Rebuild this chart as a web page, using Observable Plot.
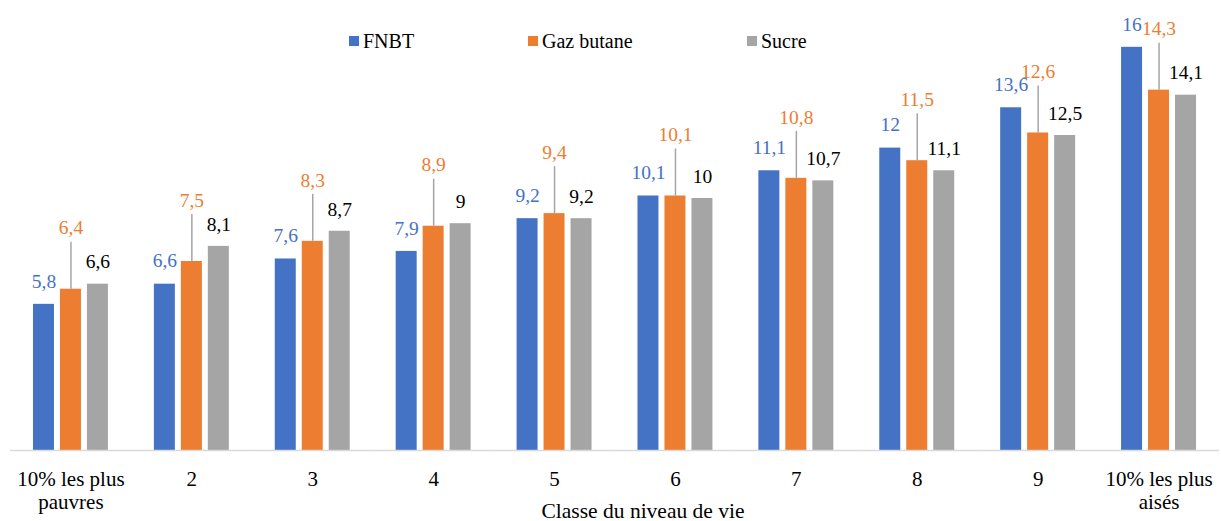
<!DOCTYPE html>
<html>
<head>
<meta charset="utf-8">
<script src="https://cdn.jsdelivr.net/npm/d3@7"></script>
<script src="https://cdn.jsdelivr.net/npm/@observablehq/plot@0.6"></script>
<style>
  html, body { margin: 0; padding: 0; background: #fff; }
  #wrap { position: relative; width: 1221px; height: 521px; font-family: "Liberation Serif", serif; }
  #wrap svg { position: absolute; left: 0; top: 0; }
  .leg { position: absolute; top: 31px; height: 20px; line-height: 20px; font-size: 20px; font-family: "Liberation Serif", serif; display: flex; align-items: center; color: #000; white-space: nowrap; }
  .sw { width: 10px; height: 10px; margin-right: 4px; display: inline-block; }
  #xtitle { position: absolute; top: 500px; left: 643px; transform: translateX(-50%); font-size: 21.5px; line-height: 22px; font-family: "Liberation Serif", serif; white-space: nowrap; color: #000; }
</style>
</head>
<body>
<div id="wrap"></div>
<script>
// ---- data ----
const categories = ["10% les plus\npauvres", "2", "3", "4", "5", "6", "7", "8", "9", "10% les plus\naisés"];
const seriesNames = ["FNBT", "Gaz butane", "Sucre"];
const fnbt = [5.8, 6.6, 7.6, 7.9, 9.2, 10.1, 11.1, 12, 13.6, 16];
const gazButane = [6.4, 7.5, 8.3, 8.9, 9.4, 10.1, 10.8, 11.5, 12.6, 14.3];
const sucre = [6.6, 8.1, 8.7, 9, 9.2, 10, 10.7, 11.1, 12.5, 14.1];
const barColors = ["#4472C4", "#ED7D31", "#A5A5A5"];
const labelColors = ["#4472C4", "#ED7D31", "#000000"];
const axisTitle = "Classe du niveau de vie";

const values = [fnbt, gazButane, sucre];
const rows = [];
categories.forEach((c, i) => {
  seriesNames.forEach((s, j) => rows.push({cat: c, series: s, value: values[j][i]}));
});
const fmt = d => String(d.value).replace(".", ",");
const bySeries = s => rows.filter(r => r.series === s);
const FONT = "Liberation Serif";

const chart = Plot.plot({
  width: 1221,
  height: 521,
  marginTop: 9,
  marginBottom: 71,
  marginLeft: 10,
  marginRight: 2,
  style: "font-family: 'Liberation Serif', serif; font-size: 20px; background: transparent; color: #000;",
  fx: {domain: categories, paddingInner: 0.38, paddingOuter: 0.19, round: false, label: null, axis: null},
  x: {domain: seriesNames, paddingInner: 0.222, paddingOuter: 0, round: false, axis: null},
  y: {domain: [0, 17.5], axis: null},
  color: {domain: seriesNames, range: barColors},
  marks: [
    Plot.barY(rows, {fx: "cat", x: "series", y: "value", fill: "series"}),
    Plot.ruleY([0], {stroke: "#D9D9D9", strokeWidth: 1.5, insetLeft: -23, insetRight: -23}),
    Plot.ruleX(bySeries("Gaz butane"), {fx: "cat", x: "series", y1: "value", y2: "value", insetTop: -47, stroke: "#A5A5A5", strokeWidth: 1.5}),
    Plot.text(bySeries("FNBT"), {fx: "cat", x: "series", y: "value", text: fmt, dy: -23, fill: labelColors[0], fontFamily: FONT, fontSize: 19.5}),
    Plot.text(bySeries("Gaz butane"), {fx: "cat", x: "series", y: "value", text: fmt, dy: -61, fill: labelColors[1], fontFamily: FONT, fontSize: 19.5}),
    Plot.text(bySeries("Sucre"), {fx: "cat", x: "series", y: "value", text: fmt, dy: -22, fill: labelColors[2], fontFamily: FONT, fontSize: 19.5}),
    Plot.axisFx({anchor: "bottom", tickSize: 0, tickPadding: 19, lineHeight: 1.1, label: null, fill: "#000", fontFamily: FONT, fontSize: 21})
  ]
});

const wrap = document.getElementById("wrap");
wrap.appendChild(chart);

// legend
const legendLeft = [349, 528, 747];
seriesNames.forEach((s, j) => {
  const item = document.createElement("div");
  item.className = "leg";
  item.style.left = legendLeft[j] + "px";
  const sw = document.createElement("span");
  sw.className = "sw";
  sw.style.background = barColors[j];
  item.appendChild(sw);
  item.appendChild(document.createTextNode(s));
  wrap.appendChild(item);
});

const t = document.createElement("div");
t.id = "xtitle";
t.textContent = axisTitle;
wrap.appendChild(t);
</script>
</body>
</html>
